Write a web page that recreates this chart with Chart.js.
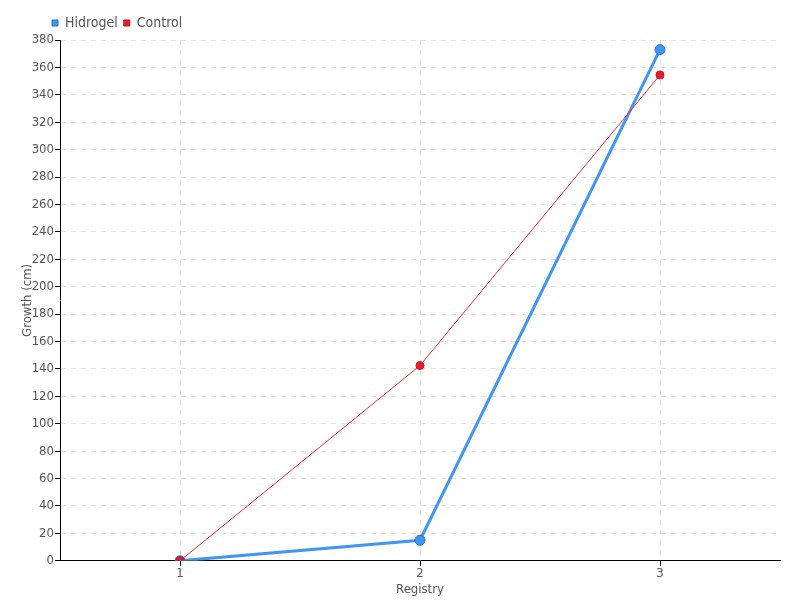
<!DOCTYPE html>
<html><head><meta charset="utf-8">
<script src="https://cdn.jsdelivr.net/npm/chart.js@4/dist/chart.umd.min.js"></script>
<style>html,body{margin:0;padding:0;background:#fff}#wrap{width:800px;height:600px}</style>
</head><body><div id="wrap"><canvas id="c" width="800" height="600"></canvas></div>
<script>
const categories = ['1', '2', '3'];
const hidrogel = [0, 15, 373];
const control = [0, 142.5, 354.5];
const FONT = "'DejaVu Sans Condensed', 'Liberation Sans Narrow', sans-serif";
const dashGrid = {
  color: '#e2e2e2', tickColor: '#000', tickLength: 5, offset: false, lineWidth: 1
};
const shiftLegend = {
  id: 'shiftLegend',
  afterLayout(chart) { if (chart.legend) { chart.legend.left += 26; chart.legend.right += 26; } }
};
new Chart(document.getElementById('c'), {
  type: 'line',
  data: {
    labels: categories,
    datasets: [
      { label: 'Hidrogel', data: hidrogel, order: 1, borderColor: '#4196f2', backgroundColor: '#4196f2',
        pointBackgroundColor: '#4196f2', pointBorderColor: '#2a6fc4', pointBorderWidth: 1,
        borderWidth: 3, pointRadius: 5, tension: 0, fill: false },
      { label: 'Control', data: control, order: 0, borderColor: '#ee2a3a', backgroundColor: '#e81d2d',
        pointBackgroundColor: '#e81d2d', pointBorderColor: '#c8141f', pointBorderWidth: 1,
        borderWidth: 1, pointRadius: 4, tension: 0, fill: false }
    ]
  },
  plugins: [shiftLegend],
  options: {
    responsive: false, animation: false,
    layout: { padding: { left: 20, right: 20, top: 10, bottom: 3 } },
    plugins: {
      legend: { position: 'top', align: 'start',
        labels: { usePointStyle: true, pointStyle: 'rect', boxWidth: 6, boxHeight: 6, padding: 6,
          color: '#555', font: { family: FONT, size: 14 },
          sort: (a, b) => a.datasetIndex - b.datasetIndex } },
      tooltip: { enabled: false }
    },
    scales: {
      x: {
        offset: true,
        grid: Object.assign({}, dashGrid),
        border: { color: '#000', dash: [5, 5], display: true },
        ticks: { color: '#555', font: { family: FONT, size: 13 }, padding: 0 },
        title: { display: true, text: 'Registry', color: '#555', font: { family: FONT, size: 13 }, padding: 0 }
      },
      y: {
        min: 0, max: 380,
        afterFit(scale) { scale.width = 40; },
        grid: Object.assign({}, dashGrid),
        border: { color: '#000', dash: [5, 5] },
        ticks: { stepSize: 20, color: '#555', font: { family: FONT, size: 13 }, padding: 1 },
        title: { display: true, text: 'Growth (cm)', color: '#555', font: { family: FONT, size: 13 }, padding: 0 }
      }
    }
  }
});
</script></body></html>
